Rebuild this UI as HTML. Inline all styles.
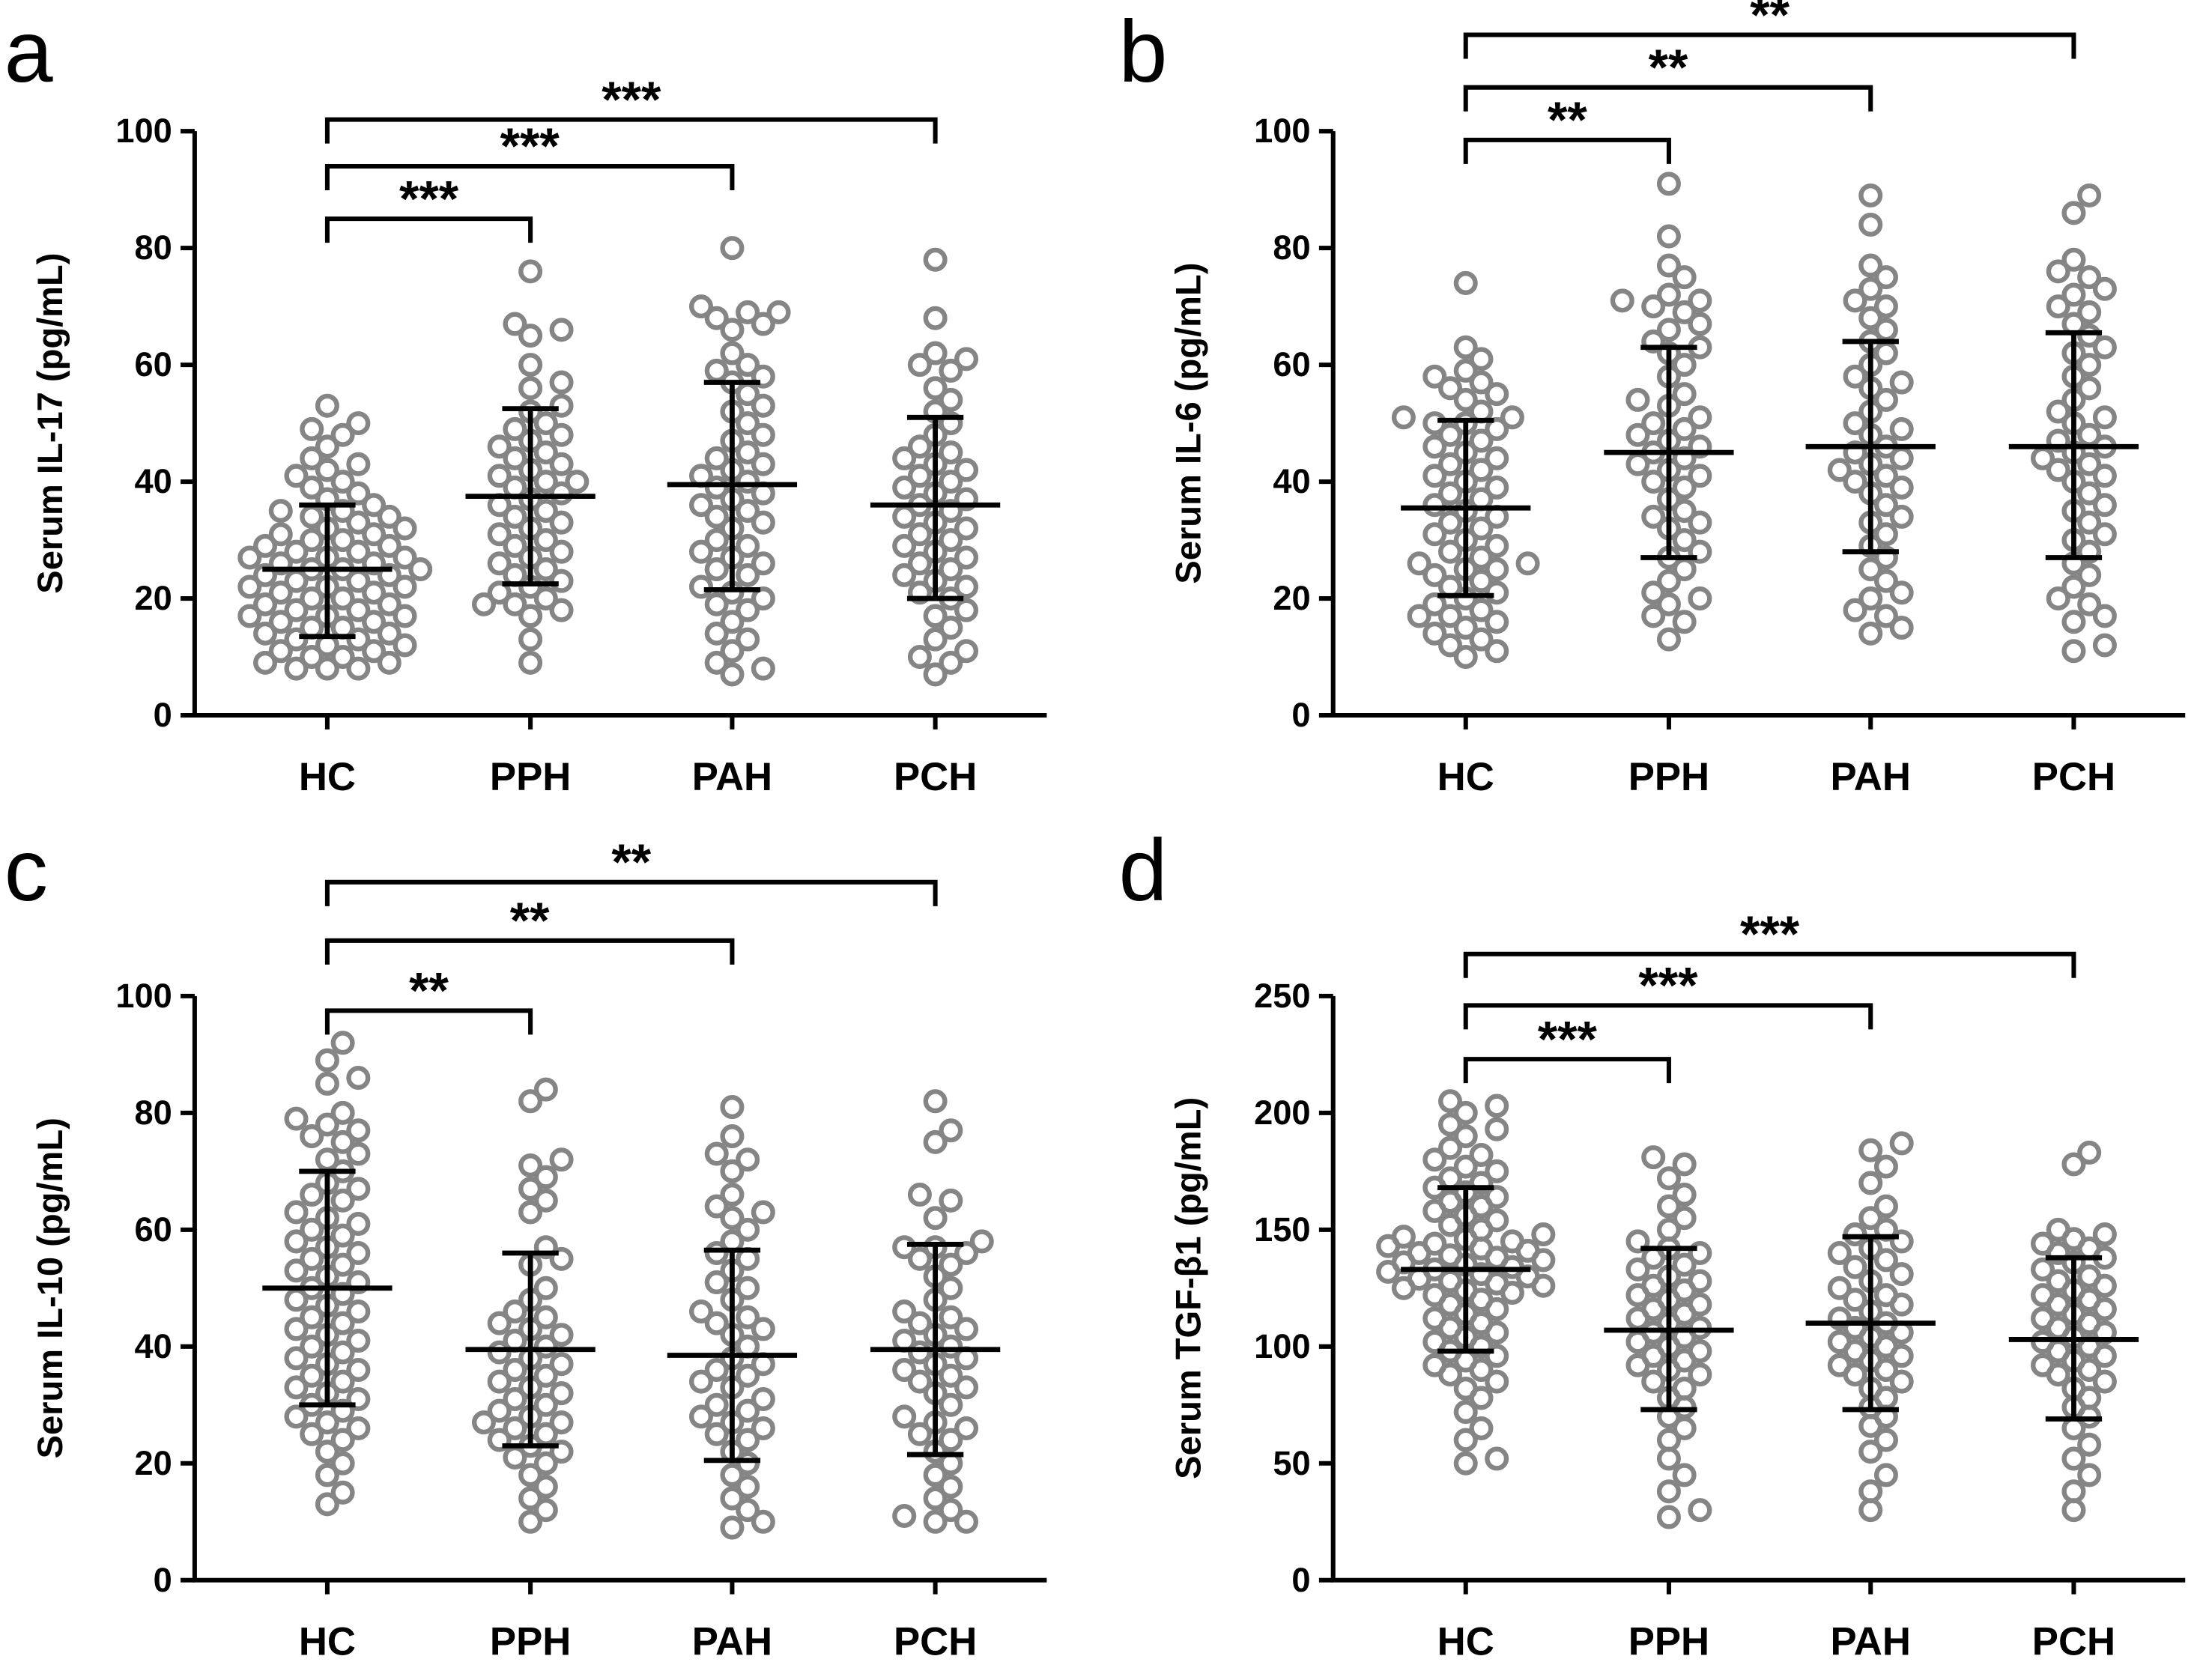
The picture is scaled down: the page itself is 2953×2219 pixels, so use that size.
<!DOCTYPE html>
<html><head><meta charset="utf-8"><style>
html,body{margin:0;padding:0;background:#fff}
svg{display:block}
text{font-family:"Liberation Sans",sans-serif;font-weight:bold;fill:#000}
</style></head><body>
<svg id="fig" width="2953" height="2219" viewBox="0 0 1568 1178" preserveAspectRatio="none" xmlns="http://www.w3.org/2000/svg"></svg>
<script>
const categories = ["HC","PPH","PAH","PCH"];
const aHC=[53,50,49,48,46,44,43,42,41,40,39,38,37,36,35,35,34,34,33,32,32,31,31,30,30,29,29,28,28,27,27,27,26,26,25,25,25,24,24,23,23,22,22,22,21,21,20,20,19,19,18,18,17,17,17,16,16,15,15,14,14,13,13,12,12,11,11,10,10,9,9,8,8,8];
const aPPH=[76,67,66,65,60,57,56,53,52,50,49,48,47,46,45,44,43,42,41,40,40,39,38,37,36,35,34,33,32,31,30,29,28,27,26,25,24,23,22,21,20,19,19,18,17,13,9];
const aPAH=[80,70,69,69,68,67,66,62,60,59,58,57,55,53,52,50,48,47,45,44,43,42,41,40,39,38,37,36,35,34,33,32,30,29,28,27,26,25,24,22,21,20,19,18,16,14,13,11,9,8,7];
const aPCH=[78,68,62,61,60,59,56,54,52,50,48,46,45,44,43,42,41,40,39,38,37,36,35,34,33,32,31,30,29,28,27,26,25,24,23,22,21,20,18,17,15,13,11,10,9,7];
const bHC=[74,63,61,59,58,57,56,55,54,52,51,51,50,50,49,48,47,46,45,44,43,42,41,40,39,38,37,36,35,34,33,32,31,30,29,28,27,26,26,25,25,24,23,22,21,20,19,18,17,17,16,15,14,13,12,11,10];
const bPPH=[91,82,77,75,72,71,71,70,69,67,66,64,63,62,60,58,55,54,53,51,50,49,48,47,46,45,44,43,42,41,40,39,37,35,34,33,32,30,28,27,25,23,21,20,19,17,16,13];
const bPAH=[89,84,77,75,73,71,70,68,66,64,62,60,58,57,56,54,52,50,49,48,46,45,44,43,42,41,40,39,38,36,34,33,31,29,27,25,23,21,20,18,17,15,14];
const bPCH=[89,86,78,76,75,73,72,70,69,67,65,63,62,60,58,56,54,52,51,50,48,47,46,45,44,43,42,41,40,38,36,35,33,31,30,28,26,24,22,20,19,17,16,12,11];
const cHC=[92,89,86,85,80,79,78,77,76,75,73,72,70,68,67,66,65,63,62,61,60,59,58,57,56,55,54,53,52,51,50,49,48,47,46,45,44,43,42,41,40,39,38,37,36,35,34,33,32,31,30,29,28,27,26,25,24,22,20,18,15,13];
const cPPH=[84,82,72,71,69,67,65,63,57,55,54,50,48,46,45,44,43,42,41,40,39,38,37,36,35,34,33,32,31,30,29,28,27,27,26,25,24,23,22,21,20,18,16,14,12,10];
const cPAH=[81,76,73,72,70,66,64,63,62,60,58,56,55,53,51,50,48,46,45,44,43,42,40,38,37,36,35,34,33,31,30,29,28,27,26,25,24,22,20,18,16,14,12,10,9];
const cPCH=[82,77,75,66,65,62,58,57,57,56,55,54,52,50,48,46,45,44,43,42,41,40,39,38,37,36,35,34,33,32,30,28,27,26,25,24,22,20,18,16,14,12,11,10,10];
const dHC=[205,203,200,195,193,190,185,182,180,177,175,172,170,168,166,164,162,160,158,156,154,152,150,148,147,146,145,144,143,142,141,140,139,138,137,136,135,134,133,132,131,130,129,128,127,126,125,124,123,122,120,118,116,114,112,110,108,106,104,102,100,98,96,94,92,90,88,85,82,78,72,65,60,52,50];
const dPPH=[181,178,172,165,160,155,150,145,142,140,138,135,133,130,128,126,124,122,120,118,116,114,112,110,108,106,104,102,100,98,96,94,92,90,88,85,82,78,74,70,65,60,52,45,38,30,27];
const dPAH=[187,184,177,170,160,155,150,148,145,142,140,137,134,131,128,125,122,120,118,115,112,110,108,106,104,102,100,98,96,94,92,90,88,85,82,78,74,70,66,60,55,45,38,30];
const dPCH=[183,178,150,148,146,144,142,140,138,136,133,130,128,126,124,122,120,118,116,114,112,110,108,106,104,102,100,98,96,94,92,90,88,85,82,78,74,70,65,58,52,45,38,30];
const aMean=[25,37.5,39.5,36], aLo=[13.5,22.5,21.5,20], aHi=[36,52.5,57,51];
const bMean=[35.5,45,46,46], bLo=[20.5,27,28,27], bHi=[50.5,63,64,65.5];
const cMean=[50,39.5,38.5,39.5], cLo=[30,23,20.5,21.5], cHi=[70,56,56.5,57.5];
const dMean=[133,107,110,103], dLo=[98,73,73,69], dHi=[168,142,147,138];
const aBr=[85,94,102], bBr=[98.5,107.5,116.5], cBr=[97.5,109.5,119.5], dBr=[223,246,268];
const aStars=["***","***","***"], bStars=["**","**","**"], cStars=["**","**","**"], dStars=["***","***","***"];
const aTicks=[0,20,40,60,80,100], dTicks=[0,50,100,150,200,250];

const NS="http://www.w3.org/2000/svg";
const svg=document.getElementById('fig');
function mk(tag,attrs,parent,txt){const e=document.createElementNS(NS,tag);for(const k in attrs)e.setAttribute(k,attrs[k]);if(txt!==undefined)e.textContent=txt;(parent||svg).appendChild(e);return e;}

const panels=[
 {id:'a',ox:138,y0:507,ymax:100,ticks:aTicks,data:[aHC,aPPH,aPAH,aPCH],mean:aMean,lo:aLo,hi:aHi,br:aBr,st:aStars,title:"Serum IL-17 (pg/mL)",lx:3,ly:58},
 {id:'b',ox:945,y0:507,ymax:100,ticks:aTicks,data:[bHC,bPPH,bPAH,bPCH],mean:bMean,lo:bLo,hi:bHi,br:bBr,st:bStars,title:"Serum IL-6 (pg/mL)",lx:793,ly:58},
 {id:'c',ox:138,y0:1120,ymax:100,ticks:aTicks,data:[cHC,cPPH,cPAH,cPCH],mean:cMean,lo:cLo,hi:cHi,br:cBr,st:cStars,title:"Serum IL-10 (pg/mL)",lx:3,ly:638},
 {id:'d',ox:945,y0:1120,ymax:250,ticks:dTicks,data:[dHC,dPPH,dPAH,dPCH],mean:dMean,lo:dLo,hi:dHi,br:dBr,st:dStars,title:"Serum TGF-β1 (pg/mL)",lx:793,ly:638}
];
const H=414, catOff=[94,238,381,525];

panels.forEach(p=>{
 const g=mk('g',{});
 
 
 const y=v=>p.y0-v/p.ymax*H;
 const x=i=>p.ox+catOff[i];
 const lt=mk('text',{x:p.lx,y:p.ly,'font-size':62,style:'font-weight:normal'},g,p.id);
 
 
 p.data.forEach((vals,i)=>{
  const placed=[];
  const sorted=vals.slice().sort((a,b)=>a-b);
  sorted.forEach(v=>{
   const py=y(v);let px=x(i);
   for(let k=0;k<40;k++){
    const off=(k%2?1:-1)*Math.ceil(k/2)*11;
    const cx=x(i)+off;
    if(placed.every(q=>Math.hypot(q[0]-cx,q[1]-py)>=12.5)){px=cx;break;}
   }
   placed.push([px,py]);
   const c=mk('circle',{cx:px,cy:py,r:6.8,fill:'none',stroke:'#858585','stroke-width':3.4},g);
   
   
  });
 });
 p.mean.forEach((m,i)=>{
  const e=mk('path',{d:`M${x(i)-46},${y(m)}H${x(i)+46}M${x(i)-20},${y(p.hi[i])}H${x(i)+20}M${x(i)-20},${y(p.lo[i])}H${x(i)+20}M${x(i)},${y(p.hi[i])}V${y(p.lo[i])}`,stroke:'#000','stroke-width':3.6,fill:'none'},g);
  
  
 });
 const ax=mk('path',{d:`M${p.ox},${p.y0-H}V${p.y0}H${p.ox+604}`,stroke:'#000','stroke-width':3.2,fill:'none'},g);
 
 
 p.ticks.forEach(t=>{
  mk('line',{x1:p.ox-10,x2:p.ox,y1:y(t),y2:y(t),stroke:'#000','stroke-width':3.2},g);
  const tl=mk('text',{x:p.ox-16,y:y(t)+8,'font-size':24,'text-anchor':'end'},g,t);
  
  
 });
 categories.forEach((c,i)=>{
  mk('line',{x1:x(i),x2:x(i),y1:p.y0,y2:p.y0+10,stroke:'#000','stroke-width':3.2},g);
  const cl=mk('text',{x:x(i),y:p.y0+53,'font-size':28,'text-anchor':'middle'},g,c);
  
  
 });
 const yt=mk('text',{x:0,y:0,'font-size':25,'text-anchor':'middle',transform:`translate(${p.ox-94},${p.y0-H/2}) rotate(-90)`},g,p.title);
 
 
 p.br.forEach((lv,k)=>{
  const ly=y(lv),x1=x(0),x2=x(k+1);
  const b=mk('path',{d:`M${x1},${ly+17}V${ly}H${x2}V${ly+17}`,stroke:'#000','stroke-width':3.2,fill:'none'},g);
  
  
  const s=mk('text',{x:(x1+x2)/2,y:ly-2,'font-size':36,'text-anchor':'middle'},g,p.st[k]);
  
  
 });
});
</script>
</body></html>
